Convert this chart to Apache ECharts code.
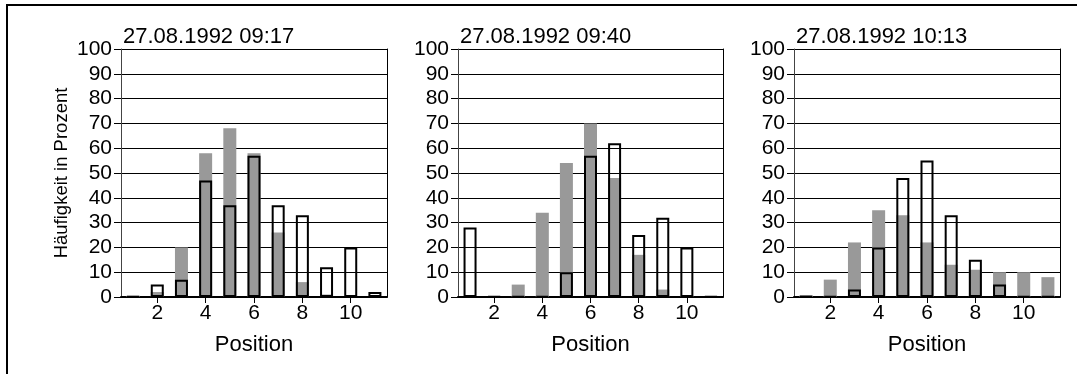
<!DOCTYPE html>
<html>
<head>
<meta charset="utf-8">
<script src="https://cdn.jsdelivr.net/npm/echarts@6/dist/echarts.min.js"></script>
<style>
html,body{margin:0;padding:0;background:#fff;}
#c{width:1077px;height:374px;}
</style>
</head>
<body>
<div id="c"></div>
<script>
var categories = ['1','2','3','4','5','6','7','8','9','10','11'];
var titles = ['27.08.1992 09:17', '27.08.1992 09:40', '27.08.1992 10:13'];
var grayA = [0.5, 2, 20, 58, 68, 58, 26, 6, 1, 0, 0];
var outlineA = [0.3, 5, 7, 47, 37, 57, 37, 33, 12, 20, 2];
var grayB = [0, 0, 5, 34, 54, 70, 48, 17, 3, 0.5, 0];
var outlineB = [28, 0.3, 0.3, 0.3, 10, 57, 62, 25, 32, 20, 0.3];
var grayC = [0.8, 7, 22, 35, 33, 22, 13, 11, 10, 10, 8];
var outlineC = [0.3, 0.3, 3, 20, 48, 55, 33, 15, 5, 0.3, 0.3];
var yTicks = [0, 10, 20, 30, 40, 50, 60, 70, 80, 90, 100];
var yAxisName = 'Häufigkeit in Prozent';
var xAxisName = 'Position';

var grays = [grayA, grayB, grayC];
var outlines = [outlineA, outlineB, outlineC];
var gridLefts = [121, 458, 794];
var gridWidths = [266, 265, 266];
var FONT = '"Liberation Sans", Arial, Helvetica, sans-serif';

var grids = [], xAxes = [], yAxes = [], series = [], titleArr = [];
for (var i = 0; i < 3; i++) {
  grids.push({left: gridLefts[i], width: gridWidths[i], top: 49, height: 248, containLabel: false});
  titleArr.push({text: titles[i], left: gridLefts[i] + 2, top: 26, padding: 0,
    textStyle: {fontFamily: FONT, fontSize: 22, fontWeight: 'normal', color: '#000'}});
  xAxes.push({type: 'category', gridIndex: i, data: categories,
    name: xAxisName, nameLocation: 'middle', nameGap: 37,
    nameTextStyle: {fontFamily: FONT, fontSize: 22, color: '#000'},
    axisLine: {show: true, lineStyle: {color: '#000', width: 2}},
    axisTick: {show: true, alignWithLabel: true, length: 6, lineStyle: {color: '#000', width: 1},
      interval: function (idx) { return (idx + 1) % 2 === 0; }},
    axisLabel: {fontFamily: FONT, fontSize: 21, color: '#000', margin: 6,
      interval: function (idx) { return (idx + 1) % 2 === 0; }},
    splitLine: {show: false}
  });
  yAxes.push({type: 'value', gridIndex: i, min: 0, max: 100, interval: 10,
    name: i === 0 ? yAxisName : '', nameLocation: 'middle', nameGap: 50,
    nameTextStyle: {fontFamily: FONT, fontSize: 18.5, color: '#000'},
    axisLine: {show: true, lineStyle: {color: '#444', width: 1}},
    axisTick: {show: true, length: 7, lineStyle: {color: '#000', width: 1}},
    axisLabel: {fontFamily: FONT, fontSize: 21, color: '#000', margin: 9,
      formatter: function (v) { return yTicks.indexOf(v) >= 0 ? String(v) : ''; }},
    splitLine: {show: true, lineStyle: {color: '#000', width: 1}}
  });
  yAxes.push({type: 'value', gridIndex: i, min: 0, max: 100, position: 'right',
    axisLine: {show: true, lineStyle: {color: '#000', width: 1}},
    axisTick: {show: false}, axisLabel: {show: false}, splitLine: {show: false}
  });
  series.push({type: 'bar', xAxisIndex: i, yAxisIndex: i * 2, data: grays[i],
    barWidth: 13, barGap: '-100%', silent: true, z: 2,
    itemStyle: {color: '#999999'}});
  series.push({type: 'bar', xAxisIndex: i, yAxisIndex: i * 2, data: outlines[i],
    barWidth: 13, barGap: '-100%', silent: true, z: 3,
    itemStyle: {color: 'rgba(0,0,0,0)', borderColor: '#000', borderWidth: 2}});
}

var chart = echarts.init(document.getElementById('c'), null, {renderer: 'canvas'});
chart.setOption({
  animation: false,
  backgroundColor: '#fff',
  title: titleArr,
  grid: grids,
  xAxis: xAxes,
  yAxis: yAxes,
  series: series,
  graphic: [{type: 'rect', shape: {x: 7, y: 5, width: 1200, height: 500},
    style: {fill: 'none', stroke: '#000', lineWidth: 2}, silent: true, z: 100}]
});
</script>
</body>
</html>
